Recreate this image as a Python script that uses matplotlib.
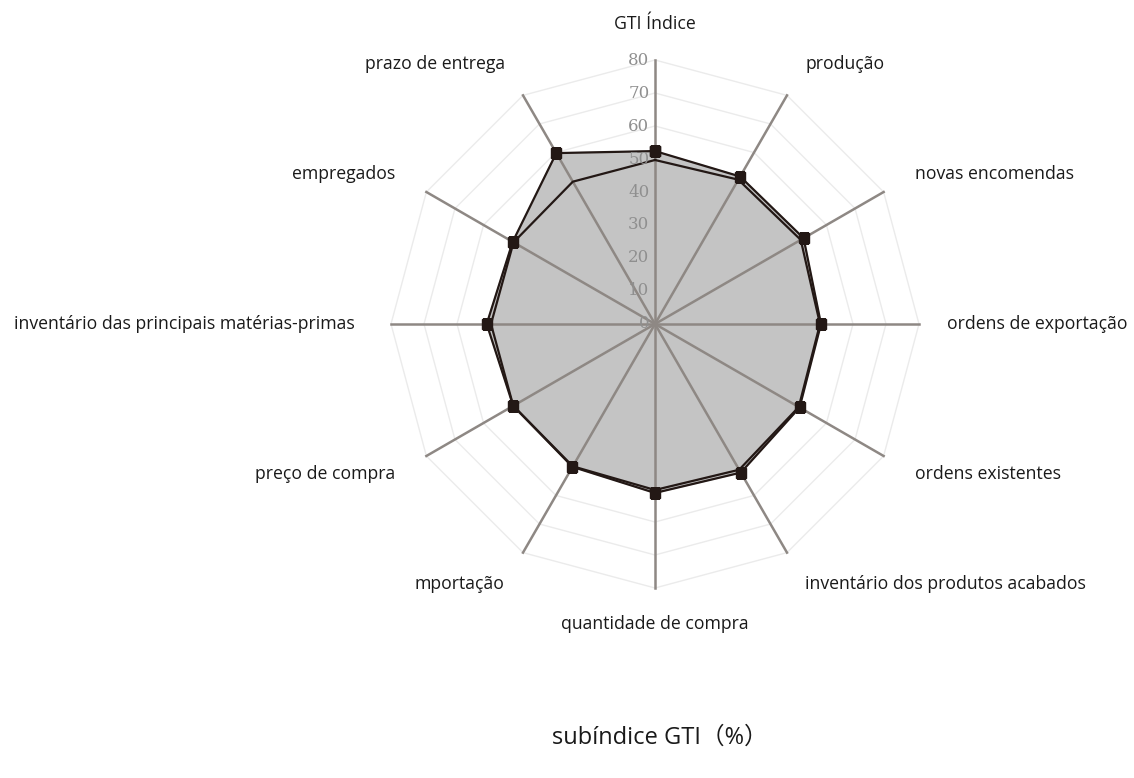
import numpy as np
import matplotlib.pyplot as plt

# Category labels (clockwise from top)
categories = ["GTI Índice", "produção", "novas encomendas", "ordens de exportação",
              "ordens existentes", "inventário dos produtos acabados",
              "quantidade de compra", "mportação", "preço de compra",
              "inventário das principais matérias-primas", "empregados",
              "prazo de entrega"]

# Two series
outer_values = [52.4, 51.6, 52.0, 50.3, 50.6, 52.0, 51.2, 50.0, 49.6, 51.0, 49.8, 59.8]
inner_values = [49.7, 50.5, 51.0, 50.0, 50.3, 51.0, 50.3, 49.8, 49.6, 49.7, 49.5, 49.8]

r_ticks = [0, 10, 20, 30, 40, 50, 60, 70, 80]
title = "subíndice GTI（%）"

sans = ["Open Sans", "Noto Sans CJK SC", "DejaVu Sans"]

n = len(categories)
angles = np.arange(n) * 2 * np.pi / n
closed = np.append(angles, angles[0])

fig = plt.figure(figsize=(11.34, 7.78), dpi=100)
ax = fig.add_axes([0.3448, 0.2442, 0.4656, 0.6787], polar=True)
ax.set_theta_zero_location("N")
ax.set_theta_direction(-1)
ax.set_ylim(0, 80)
ax.set_axis_off()

# polygon grid
for r in r_ticks[1:]:
    ax.plot(closed, [r] * (n + 1), color="#ebebeb", lw=1.0, zorder=1, clip_on=False)

# filled area of the outer series
outer_closed = outer_values + outer_values[:1]
inner_closed = inner_values + inner_values[:1]
ax.fill(closed, outer_closed, color="#c4c4c4", zorder=2)

# spokes
for a in angles:
    ax.plot([a, a], [0, 80], color="#8e8884", lw=1.8, zorder=3, clip_on=False)

# series lines
ax.plot(closed, inner_closed, color="#231815", lw=1.6, zorder=4)
ax.plot(closed, outer_closed, color="#231815", lw=1.6, marker="s", markersize=6.5,
        markerfacecolor="#231815", zorder=5)

# radial tick labels
for r in r_ticks:
    ax.annotate(str(r), xy=(0, r), xytext=(-4, 0), textcoords="offset points",
                ha="right", va="center", fontsize=12, color="#8f8f8f",
                family="DejaVu Serif", zorder=6)

# category labels
for a, lab in zip(angles, categories):
    deg = np.degrees(a)
    if deg == 0 or deg == 180:
        ha = "center"
    elif deg < 180:
        ha = "left"
    else:
        ha = "right"
    rr = 88.5 if deg == 90 else 91
    ax.text(a, rr, lab, ha=ha, va="center", fontsize=12.7, color="#1a1a1a", family=sans)

fig.text(0.582, 0.052, title, ha="center", va="center", fontsize=17, color="#1a1a1a",
         family=sans)

fig.savefig("out.png", dpi=100)
